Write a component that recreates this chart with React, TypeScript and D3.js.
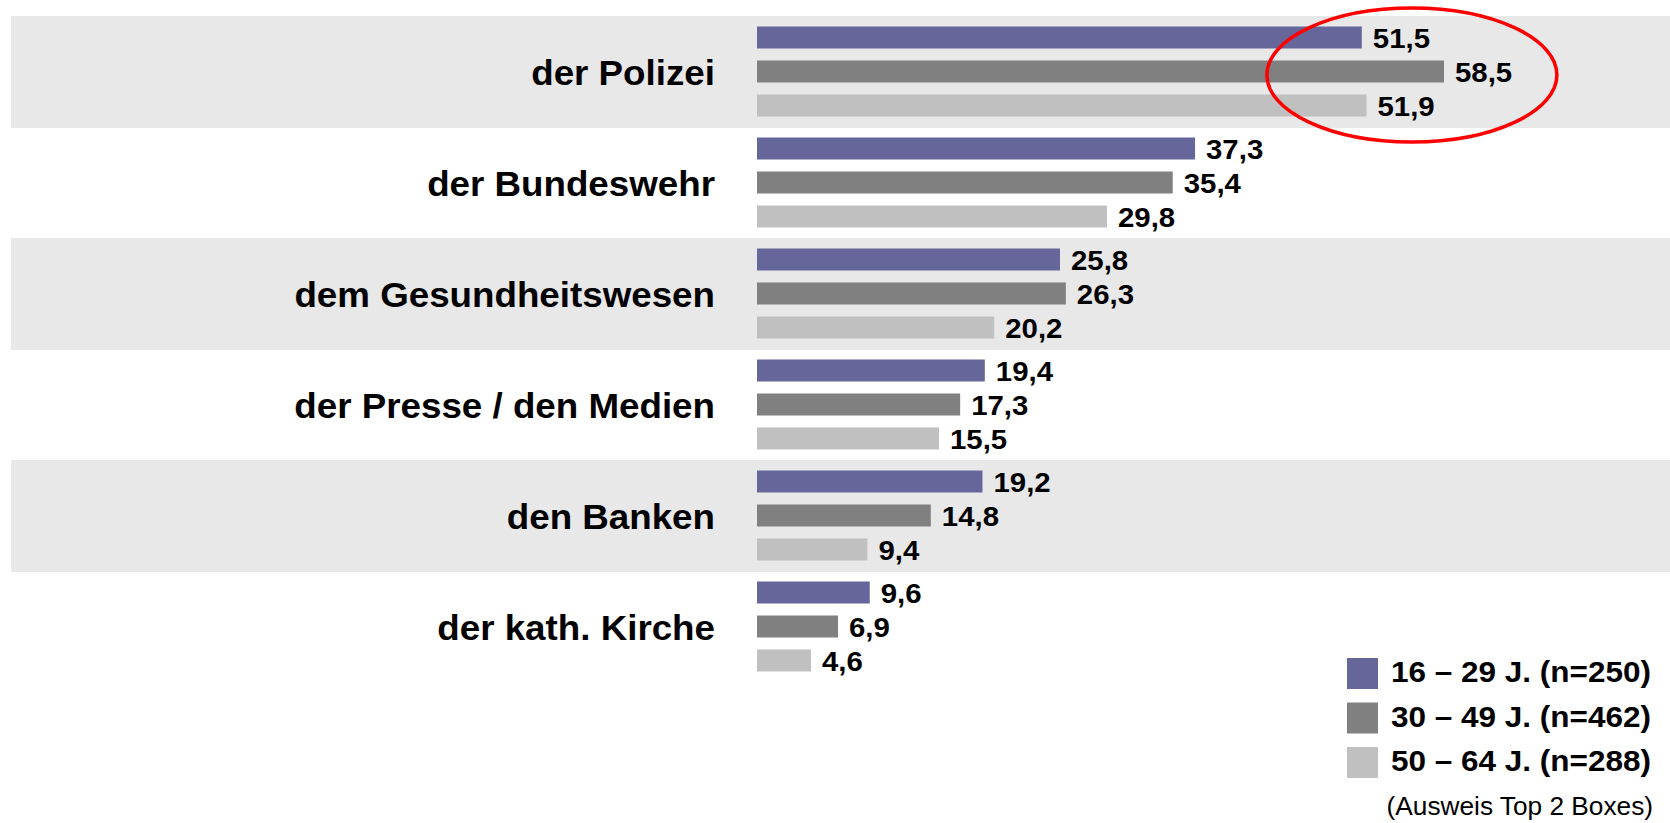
import React from "react";
import * as d3 from "d3";

const WIDTH = 1670;
const HEIGHT = 823;

const categories = [
  "der Polizei",
  "der Bundeswehr",
  "dem Gesundheitswesen",
  "der Presse / den Medien",
  "den Banken",
  "der kath. Kirche",
];
const seriesNames = ["16 – 29 J. (n=250)", "30 – 49 J. (n=462)", "50 – 64 J. (n=288)"];
const seriesColors = ["#66669a", "#808080", "#c0c0c0"];
const young = [51.5, 37.3, 25.8, 19.4, 19.2, 9.6];
const middle = [58.5, 35.4, 26.3, 17.3, 14.8, 6.9];
const old = [51.9, 29.8, 20.2, 15.5, 9.4, 4.6];
const seriesValues = [young, middle, old];
const note = "(Ausweis Top 2 Boxes)";

const FONT = "'Liberation Sans', Arial, Helvetica, sans-serif";
const STRETCH = 1.05;

const fmt = (v: number) => v.toFixed(1).replace(".", ",");

export default function App() {
  const yBand = d3
    .scaleBand<string>()
    .domain(categories)
    .range([16, 16 + 111 * categories.length]);

  // three bars per row
  const ySub = d3
    .scaleBand<number>()
    .domain([0, 1, 2])
    .range([10.5, 100.5])
    .paddingInner(12 / 34);

  const x = d3.scaleLinear().domain([0, 58.5]).range([757, 1444]);

  return (
    <svg
      width={WIDTH}
      height={HEIGHT}
      style={{ position: "absolute", left: 0, top: 0, background: "#fff" }}
      fontFamily={FONT}
    >
      {categories.map((c, i) =>
        i % 2 === 0 ? (
          <rect
            key={"bg" + c}
            x={11}
            y={yBand(c)}
            width={WIDTH - 11}
            height={yBand.bandwidth() + 1}
            fill="#e8e8e8"
          />
        ) : null
      )}

      {categories.map((c, i) => {
        const y0 = yBand(c)!;
        return (
          <g key={c}>
            <text
              transform={`translate(715,${y0 + yBand.bandwidth() / 2 + 13.5}) scale(${STRETCH},1)`}
              textAnchor="end"
              fontSize={35}
              fontWeight="bold"
              fill="#000"
            >
              {c}
            </text>
            {seriesValues.map((vals, s) => {
              const by = y0 + ySub(s)!;
              const bh = ySub.bandwidth();
              return (
                <g key={s}>
                  <rect
                    x={x(0)}
                    y={by}
                    width={x(vals[i]) - x(0)}
                    height={bh}
                    fill={seriesColors[s]}
                  />
                  <text
                    transform={`translate(${x(vals[i]) + 11},${by + bh - 0.5}) scale(${STRETCH},1)`}
                    fontSize={28}
                    fontWeight="bold"
                    fill="#000"
                  >
                    {fmt(vals[i])}
                  </text>
                </g>
              );
            })}
          </g>
        );
      })}

      {/* highlight ellipse */}
      <ellipse
        cx={(x(51.5) + x(58.5)) / 2 + 9}
        cy={75}
        rx={145}
        ry={67}
        fill="none"
        stroke="#ff0000"
        strokeWidth={3.5}
      />

      {seriesNames.map((name, s) => (
        <g key={name} transform={`translate(1347,${658 + s * 44.5})`}>
          <rect x={0} y={0} width={31} height={31} fill={seriesColors[s]} />
          <text
            transform={`translate(44,24) scale(${STRETCH},1)`}
            fontSize={30}
            fontWeight="bold"
            fill="#000"
          >
            {name}
          </text>
        </g>
      ))}
      <text
        transform={`translate(1653,815) scale(${STRETCH},1)`}
        textAnchor="end"
        fontSize={25}
        fill="#000"
      >
        {note}
      </text>
    </svg>
  );
}
